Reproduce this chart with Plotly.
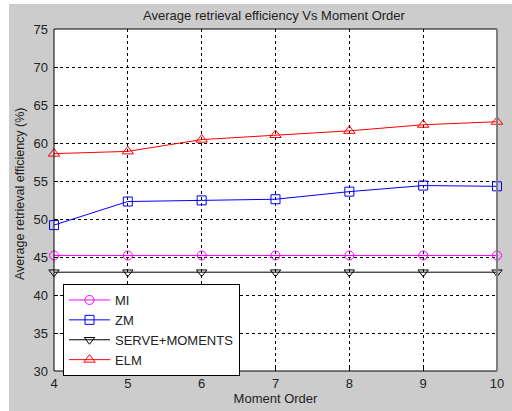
import plotly.graph_objects as go

moment_order = [4, 5, 6, 7, 8, 9, 10]
mi = [45.2, 45.2, 45.2, 45.2, 45.2, 45.2, 45.2]
zm = [49.2, 52.3, 52.45, 52.6, 53.6, 54.4, 54.3]
serve = [43.0, 43.0, 43.0, 43.0, 43.0, 43.0, 43.0]
elm = [58.6, 58.9, 60.45, 61.05, 61.6, 62.4, 62.8]

y_ticks = [30, 35, 40, 45, 50, 55, 60, 65, 70, 75]
x_ticks = [4, 5, 6, 7, 8, 9, 10]

FONT = "Liberation Sans, Arial, sans-serif"
TXT = "#222222"

fig = go.Figure()

def add(name, y, color, symbol, size):
    fig.add_trace(go.Scatter(
        x=moment_order, y=y, name=name, mode="lines+markers",
        line=dict(color=color, width=1),
        marker=dict(symbol=symbol, size=size, color=color,
                    line=dict(color=color, width=1)),
        cliponaxis=False,
    ))

add("MI", mi, "#ff00ff", "circle-open", 9)
add("ZM", zm, "#0000ff", "square-open", 9)
add("SERVE+MOMENTS", serve, "#000000", "triangle-down-open", 9)
add("ELM", elm, "#ff0000", "triangle-up-open", 10)

W, H = 512, 411
L, R, T, B = 54, 15, 29, 40
pw, ph = W - L - R, H - T - B

def px(xp):
    return (xp - L) / pw

def py(yp):
    return (H - B - yp) / ph

shapes = [
    # white strips at figure top and left edge
    dict(type="rect", xref="paper", yref="paper", x0=px(-2), x1=px(9), y0=py(-2), y1=py(H + 2),
         fillcolor="white", line=dict(width=0), layer="below"),
    dict(type="rect", xref="paper", yref="paper", x0=px(-2), x1=px(W + 2), y0=py(-2), y1=py(4),
         fillcolor="white", line=dict(width=0), layer="below"),
    # axes box
    dict(type="line", xref="paper", yref="paper", x0=0, x1=1, y0=1, y1=1, line=dict(color="black", width=1)),
    dict(type="line", xref="paper", yref="paper", x0=0, x1=1, y0=0, y1=0, line=dict(color="black", width=1)),
    dict(type="line", xref="paper", yref="paper", x0=0, x1=0, y0=0, y1=1, line=dict(color="black", width=1)),
    dict(type="line", xref="paper", yref="paper", x0=1, x1=1, y0=0, y1=1, line=dict(color="#808080", width=2)),
]

annotations = [
    dict(text="Average retrieval efficiency (%)", xref="paper", yref="paper",
         x=px(20), y=py(194), xanchor="center", yanchor="middle", textangle=-90,
         showarrow=False, font=dict(size=12.5, color=TXT)),
]

fig.update_layout(
    width=W, height=H,
    margin=dict(l=L, r=R, t=T, b=B, autoexpand=False),
    paper_bgcolor="#cccccc",
    plot_bgcolor="white",
    font=dict(family=FONT, size=13, color=TXT),
    title=dict(text="Average retrieval efficiency Vs Moment Order", x=px(274), xref="paper",
               xanchor="center", y=1 - 15 / H, yanchor="middle", font=dict(size=13, color=TXT)),
    xaxis=dict(range=[4, 10], tickvals=x_ticks, ticks="inside", ticklen=4, tickcolor="black",
               showgrid=True, gridcolor="black", griddash="3px,3px", gridwidth=1,
               zeroline=False, showline=False, automargin=False, ticklabelstandoff=3,
               tickfont=dict(size=13),
               title=dict(text="Moment Order", standoff=2, font=dict(size=13))),
    yaxis=dict(range=[30, 75], tickvals=y_ticks, ticks="inside", ticklen=4, tickcolor="black",
               showgrid=True, gridcolor="black", griddash="3px,3px", gridwidth=1,
               zeroline=False, showline=False, automargin=False, ticklabelstandoff=5,
               tickfont=dict(size=13)),
    legend=dict(x=px(63), y=py(284), xanchor="left", yanchor="top",
                bgcolor="white", bordercolor="black", borderwidth=1, itemwidth=41,
                font=dict(size=13, color=TXT), tracegroupgap=0),
    shapes=shapes,
    annotations=annotations,
    showlegend=True,
)

fig.write_html("out.html", config={"displayModeBar": False},
               post_script="document.body.style.margin='0';")
